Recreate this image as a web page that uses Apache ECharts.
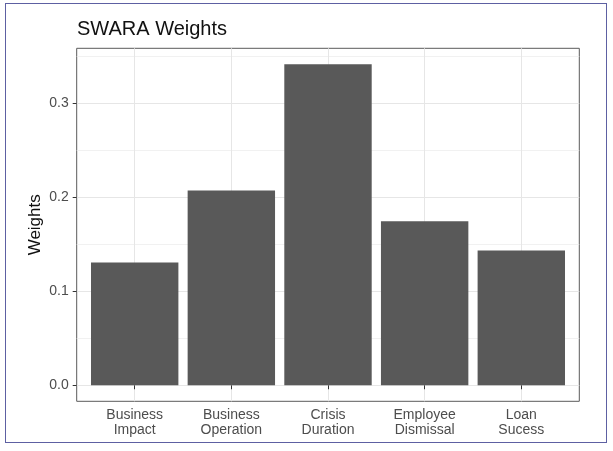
<!DOCTYPE html>
<html>
<head>
<meta charset="utf-8">
<script src="https://cdn.jsdelivr.net/npm/echarts@6/dist/echarts.min.js"></script>
<style>
html,body{margin:0;padding:0;background:#fff;}
#chart{position:absolute;left:0;top:0;width:613px;height:451px;}
#frame{position:absolute;left:5px;top:3px;width:600px;height:438px;border:1.5px solid #5d60a2;pointer-events:none;}
</style>
</head>
<body>
<div id="chart"></div>
<div id="frame"></div>
<script>
const categories = ['Business\nImpact', 'Business\nOperation', 'Crisis\nDuration', 'Employee\nDismissal', 'Loan\nSucess'];
const weights = [0.1307, 0.2072, 0.3414, 0.1746, 0.1434];
const yTicks = [0, 0.1, 0.2, 0.3];
const yMinorTicks = [0.05, 0.15, 0.25, 0.35];
const chartTitle = 'SWARA Weights';
const yTitle = 'Weights';

const positions = categories.map((c, i) => i + 1);
const maxW = Math.max.apply(null, weights);
const pad = 0.05 * maxW;
const yMin = 0 - pad, yMax = maxW + pad;
const font = '"Liberation Sans", Arial, sans-serif';

const chart = echarts.init(document.getElementById('chart'), null, {renderer: 'canvas'});
chart.setOption({
  backgroundColor: '#ffffff',
  animation: false,
  title: {
    text: chartTitle, left: 72, top: 13,
    textStyle: {fontFamily: font, fontSize: 20, fontWeight: 'normal', color: '#111', lineHeight: 22}
  },
  grid: {
    left: 76.7, right: 33.7, top: 48.3, bottom: 49.7,
    show: true, borderColor: '#5a5a5a', borderWidth: 1, backgroundColor: '#fff'
  },
  xAxis: {
    type: 'value', min: 0.4, max: 5.6,
    axisLine: {show: false},
    axisTick: {show: true, customValues: positions, length: 4, lineStyle: {color: '#333', width: 1}},
    axisLabel: {
      customValues: positions, margin: 6,
      formatter: v => categories[Math.round(v) - 1] || '',
      fontFamily: font, fontSize: 14, lineHeight: 15, color: '#4d4d4d', align: 'center'
    },
    splitLine: {show: true, lineStyle: {color: '#e6e6e6', width: 1}}
  },
  yAxis: [{
    type: 'value', min: yMin, max: yMax,
    name: yTitle, nameLocation: 'middle', nameRotate: 90, nameGap: 33, nameMoveOverlap: false,
    nameTextStyle: {fontFamily: font, fontSize: 17, color: '#111'},
    axisLine: {show: false},
    axisTick: {show: true, customValues: yTicks, length: 4, lineStyle: {color: '#333', width: 1}},
    axisLabel: {
      customValues: yTicks, margin: 8,
      formatter: v => v.toFixed(1),
      fontFamily: font, fontSize: 14, color: '#4d4d4d'
    },
    splitLine: {show: true, lineStyle: {color: '#e6e6e6', width: 1}}
  }, {
    type: 'value', min: yMin, max: yMax, position: 'left',
    axisLine: {show: false},
    axisTick: {show: false, customValues: yMinorTicks},
    axisLabel: {show: false, customValues: yMinorTicks},
    splitLine: {show: true, lineStyle: {color: '#eeeeee', width: 0.8}}
  }],
  series: [{
    type: 'bar',
    xAxisIndex: 0, yAxisIndex: 0,
    data: positions.map((p, i) => [p, weights[i]]),
    barWidth: 87.4,
    itemStyle: {color: '#595959'},
    silent: true
  }]
});
</script>
</body>
</html>
